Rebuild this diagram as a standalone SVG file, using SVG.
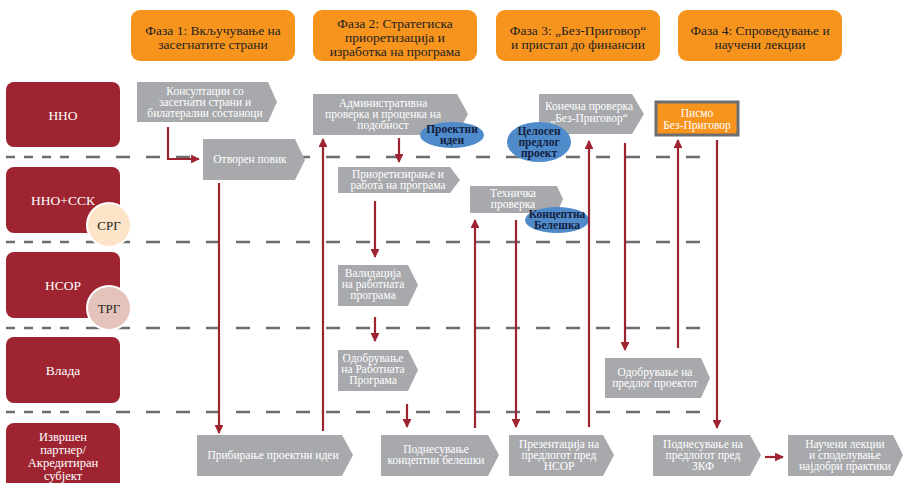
<svg xmlns="http://www.w3.org/2000/svg" width="903" height="483" viewBox="0 0 903 483">
<defs>
<marker id="ah" viewBox="0 0 10 10" refX="9" refY="5" markerWidth="4" markerHeight="4" orient="auto" markerUnits="strokeWidth">
<path d="M0,0 L10,5 L0,10 Z" fill="#9E2432"/>
</marker>
<style>
.ph{fill:#F7941E}
.pht{font-family:"Liberation Serif","DejaVu Serif",serif;font-size:13.5px;fill:#231F20;text-anchor:middle}
.lane{fill:#9E2432}
.lt{font-family:"Liberation Serif","DejaVu Serif",serif;font-size:13.5px;fill:#FFFFFF;text-anchor:middle}
.lts{font-family:"Liberation Serif","DejaVu Serif",serif;font-size:12.5px;fill:#FFFFFF;text-anchor:middle}
.ct{font-family:"Liberation Serif","DejaVu Serif",serif;font-size:13px;fill:#231F20;text-anchor:middle}
.box{fill:#A7A9AC}
.bt{font-family:"Liberation Serif","DejaVu Serif",serif;font-size:11.5px;fill:#FFFFFF;text-anchor:middle}
.el{fill:#4F8BCB}
.et{font-family:"Liberation Serif","DejaVu Serif",serif;font-size:11.5px;font-weight:bold;fill:#14213D;text-anchor:middle}
.dsh1{stroke:#6D6E71;stroke-width:2.5;stroke-dasharray:9 9;fill:none}
.dsh2{stroke:#6D6E71;stroke-width:2.5;stroke-dasharray:14 16;fill:none}
.ca{stroke:#9E2432;stroke-width:2.2;fill:none;marker-end:url(#ah)}
</style>
</defs>
<rect width="903" height="483" fill="#FFFFFF"/>

<!-- Phase headers -->
<g id="phase1"><rect class="ph" x="131" y="10" width="164" height="51" rx="9"/><text class="pht" x="213" y="35">Фаза 1: Вкључување на</text><text class="pht" x="213" y="49">засегнатите страни</text></g>
<g id="phase2"><rect class="ph" x="313" y="10" width="164" height="51" rx="9"/><text class="pht" x="395" y="28">Фаза 2: Стратегиска</text><text class="pht" x="395" y="42">приоретизација и</text><text class="pht" x="395" y="56">изработка на програма</text></g>
<g id="phase3"><rect class="ph" x="496" y="10" width="164" height="51" rx="9"/><text class="pht" x="578" y="35">Фаза 3: „Без-Приговор“</text><text class="pht" x="578" y="49">и пристап до финансии</text></g>
<g id="phase4"><rect class="ph" x="678" y="10" width="164" height="51" rx="9"/><text class="pht" x="760" y="35">Фаза 4: Спроведување и</text><text class="pht" x="760" y="49">научени лекции</text></g>

<!-- Dashed lane separators -->
<g id="separators">
<path class="dsh1" d="M6,157 H72"/><path class="dsh2" d="M86,157 H717"/>
<path class="dsh1" d="M6,242 H72"/><path class="dsh2" d="M86,242 H717"/>
<path class="dsh1" d="M6,328 H72"/><path class="dsh2" d="M86,328 H717"/>
<path class="dsh1" d="M6,412 H72"/><path class="dsh2" d="M86,412 H717"/>
</g>

<!-- Lanes -->
<g id="lane-nno"><rect class="lane" x="6" y="82" width="114" height="65" rx="8"/><text class="lt" x="63" y="120">ННО</text></g>
<g id="lane-nno-ssk"><rect class="lane" x="6" y="167" width="114" height="66" rx="8"/><text class="lt" x="63" y="205">ННО+ССК</text>
<circle cx="109" cy="225" r="22" fill="#FDE3C8" stroke="#FFFFFF" stroke-width="2"/><text class="ct" x="109" y="230">СРГ</text></g>
<g id="lane-nsor"><rect class="lane" x="6" y="252" width="114" height="66" rx="8"/><text class="lt" x="63" y="290">НСОР</text>
<circle cx="109" cy="308" r="22" fill="#E3C3BA" stroke="#FFFFFF" stroke-width="2"/><text class="ct" x="109" y="313">ТРГ</text></g>
<g id="lane-vlada"><rect class="lane" x="6" y="337" width="114" height="66" rx="8"/><text class="lt" x="63" y="375">Влада</text></g>
<g id="lane-partner"><rect class="lane" x="6" y="423" width="114" height="70" rx="8"/><text class="lts" x="63" y="441">Извршен</text><text class="lts" x="63" y="454">партнер/</text><text class="lts" x="63" y="467">Акредитиран</text><text class="lts" x="63" y="480">субјект</text></g>

<!-- Process boxes -->
<g id="konsultacii"><path class="box" d="M137,82 H268 L277,102 L268,122 H137 Z"/><text class="bt" x="205" y="95">Консултации со</text><text class="bt" x="205" y="106">засегнати страни и</text><text class="bt" x="205" y="117">билатерални состаноци</text></g>
<g id="otvoren-povik"><path class="box" d="M203,139 H295 L305,160 L295,180 H203 Z"/><text class="bt" x="250" y="163">Отворен повик</text></g>
<g id="administrativna"><path class="box" d="M313,94 H457 L468,114 L457,135 H313 Z"/><text class="bt" x="383" y="107">Административна</text><text class="bt" x="383" y="118">проверка и проценка на</text><text class="bt" x="383" y="129">подобност</text></g>
<g id="proektni-idei"><ellipse class="el" cx="452" cy="135" rx="32" ry="13"/><text class="et" x="452" y="133">Проектни</text><text class="et" x="452" y="144">идеи</text></g>
<g id="prioretiziranje"><path class="box" d="M338,167 H450 L460,180 L450,193 H338 Z"/><text class="bt" x="398" y="178">Приоретизирање и</text><text class="bt" x="398" y="189">работа на програма</text></g>
<g id="tehnicka"><path class="box" d="M470,186 H557 L563,199 L557,213 H470 Z"/><text class="bt" x="513" y="197">Техничка</text><text class="bt" x="513" y="208">проверка</text></g>
<g id="konceptna"><ellipse class="el" cx="557" cy="220" rx="32" ry="13"/><text class="et" x="557" y="218">Концептна</text><text class="et" x="557" y="229">Белешка</text></g>
<g id="konecna"><path class="box" d="M539,94 H632 L644,114 L632,134 H539 Z"/><text class="bt" x="589" y="110">Конечна проверка</text><text class="bt" x="589" y="122">„Без-Приговор“</text></g>
<g id="celosen"><ellipse class="el" cx="539" cy="142" rx="32" ry="20"/><text class="et" x="539" y="135">Целосен</text><text class="et" x="539" y="146">предлог</text><text class="et" x="539" y="157">проект</text></g>
<g id="pismo"><rect x="656" y="102" width="82" height="33" fill="#F7941E" stroke="#6D6E71" stroke-width="3"/><text class="bt" x="697" y="117">Писмо</text><text class="bt" x="697" y="129">Без-Приговор</text></g>
<g id="validacija"><path class="box" d="M338,265 H408 L418,285 L408,306 H338 Z"/><text class="bt" x="373" y="277">Валидација</text><text class="bt" x="373" y="288">на работната</text><text class="bt" x="373" y="299">програма</text></g>
<g id="odobruvanje-programa"><path class="box" d="M338,350 H408 L418,370 L408,391 H338 Z"/><text class="bt" x="373" y="362">Одобрување</text><text class="bt" x="373" y="373">на Работната</text><text class="bt" x="373" y="384">Програма</text></g>
<g id="odobruvanje-predlog"><path class="box" d="M605,358 H701 L710,378 L701,398 H605 Z"/><text class="bt" x="655" y="376">Одобрување на</text><text class="bt" x="655" y="387">предлог проектот</text></g>
<g id="pribiranje"><path class="box" d="M197,435 H342 L353,455 L342,476 H197 Z"/><text class="bt" x="273" y="459">Прибирање проектни идеи</text></g>
<g id="podnesuvanje-konceptni"><path class="box" d="M381,435 H488 L499,455 L488,476 H381 Z"/><text class="bt" x="436" y="453">Поднесување</text><text class="bt" x="436" y="464">концептни белешки</text></g>
<g id="prezentacija"><path class="box" d="M509,435 H603 L614,455 L603,476 H509 Z"/><text class="bt" x="559" y="448">Презентација на</text><text class="bt" x="559" y="459">предлогот пред</text><text class="bt" x="559" y="470">НСОР</text></g>
<g id="podnesuvanje-zkf"><path class="box" d="M653,435 H750 L761,455 L750,476 H653 Z"/><text class="bt" x="703" y="448">Поднесување на</text><text class="bt" x="703" y="459">предлогот пред</text><text class="bt" x="703" y="470">ЗКФ</text></g>
<g id="nauceni"><path class="box" d="M788,435 H893 L903,455 L893,476 H788 Z"/><text class="bt" x="845" y="448">Научени лекции</text><text class="bt" x="845" y="459">и споделување</text><text class="bt" x="845" y="470">најдобри практики</text></g>

<!-- Connectors -->
<g id="connectors">
<path class="ca" d="M168,127 V159 H199"/>
<path class="ca" d="M219,183 V433"/>
<path class="ca" d="M323,431 V139"/>
<path class="ca" d="M399,138 V162"/>
<path class="ca" d="M375,201 V257"/>
<path class="ca" d="M375,317 V341"/>
<path class="ca" d="M407,404 V427"/>
<path class="ca" d="M475,428 V220"/>
<path class="ca" d="M516,220 V427"/>
<path class="ca" d="M589,427 V141"/>
<path class="ca" d="M625,143 V350"/>
<path class="ca" d="M678,348 V140"/>
<path class="ca" d="M717,140 V428"/>
<path class="ca" d="M765,457 H783"/>
</g>
</svg>
